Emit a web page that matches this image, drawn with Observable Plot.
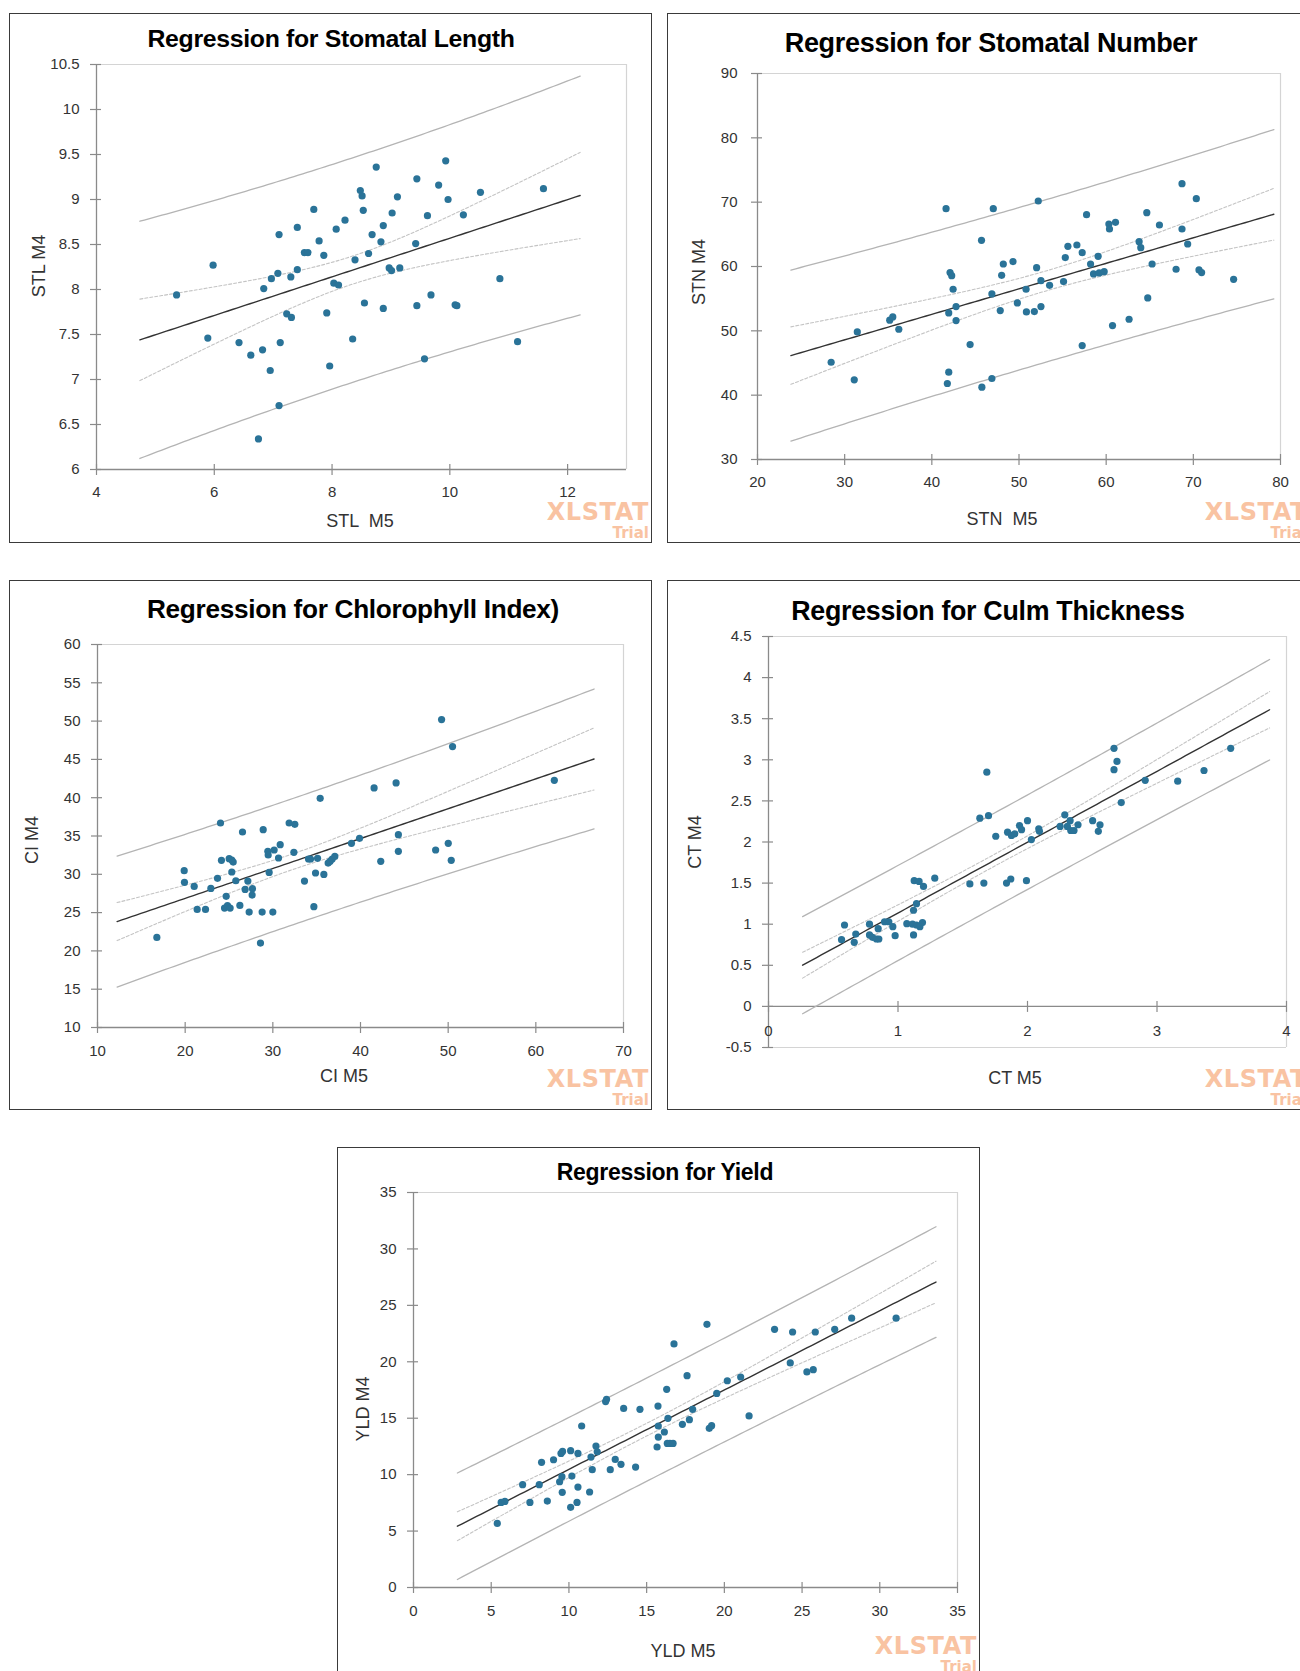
<!DOCTYPE html>
<html><head><meta charset="utf-8">
<script src="https://cdn.jsdelivr.net/npm/d3@7"></script>
<script src="https://cdn.jsdelivr.net/npm/@observablehq/plot@0.6"></script>
<style>
html,body{margin:0;padding:0;background:#fff}
body{width:1300px;height:1671px;overflow:hidden;position:relative;font-family:"Liberation Sans",Arial,sans-serif}
.box{position:absolute;border:1.5px solid #3a3a3a;box-sizing:border-box;pointer-events:none}
.title{position:absolute;transform:translate(-50%,-50%);white-space:nowrap;font-weight:bold;color:#000;letter-spacing:-0.3px}
.xl{position:absolute;transform:translate(-50%,-50%);white-space:pre;font-size:18px;color:#333}
.yl{position:absolute;transform:translate(-50%,-50%) rotate(-90deg);white-space:pre;font-size:18px;color:#333}
.wm{position:absolute;right:3px;transform:translateY(-50%);font-family:"DejaVu Sans",sans-serif;font-weight:bold;color:#f9c3a2;line-height:1;white-space:nowrap}
.panel{position:absolute;overflow:hidden;width:643px;height:530px}
</style>
</head><body>
<script>
// ---------- data ----------
const titles = ["Regression for Stomatal Length","Regression for Stomatal Number","Regression for Chlorophyll Index)","Regression for Culm Thickness","Regression for Yield"];
const xLabels = ["STL  M5","STN  M5","CI M5","CT M5","YLD M5"];
const yLabels = ["STL M4","STN M4","CI M4","CT M4","YLD M4"];

const stlM5 = [5.36,5.98,5.89,6.42,6.62,6.82,6.95,6.75,7.10,7.12,6.84,6.97,7.08,7.10,7.30,7.41,7.41,7.23,7.31,7.53,7.59,7.69,7.78,7.86,7.91,7.96,8.03,8.11,8.07,8.22,8.35,8.39,8.48,8.51,8.53,8.55,8.62,8.68,8.75,
 8.83,8.87,8.87,9.02,9.11,8.97,9.01,9.15,9.42,9.44,9.44,9.62,9.68,9.57,9.81,9.93,9.97,10.09,10.12,10.23,10.52,10.85,11.15,11.59];
const stlM4 = [7.94,8.27,7.46,7.41,7.27,7.33,7.10,6.34,6.71,7.41,8.01,8.12,8.18,8.61,8.14,8.22,8.69,7.73,7.69,8.41,8.41,8.89,8.54,8.38,7.74,7.15,8.07,8.05,8.67,8.77,7.45,8.33,9.10,9.04,8.88,7.85,8.40,8.61,9.36,
 8.53,8.71,7.79,8.85,9.03,8.24,8.21,8.24,8.51,9.23,7.82,8.82,7.94,7.23,9.16,9.43,9.00,7.83,7.82,8.83,9.08,8.12,7.42,9.12];

const stnM5 = [28.45,31.10,31.45,35.17,35.52,36.21,41.63,42.09,42.28,42.44,42.78,41.94,42.78,41.94,41.78,44.39,45.70,45.74,46.89,47.05,46.89,47.85,48.01,48.20,49.31,49.81,50.81,50.85,
 51.76,52.52,52.02,52.52,53.51,55.11,55.31,55.61,56.64,57.25,57.75,58.21,59.08,58.55,59.20,59.77,57.25,60.31,60.38,61.07,60.73,62.63,63.78,63.97,64.66,64.77,65.27,66.11,68.02,68.70,68.70,69.35,70.34,70.65,70.95,74.62,52.21];
const stnM4 = [45.12,42.38,49.83,51.65,52.16,50.25,68.99,59.05,58.58,56.46,53.77,52.78,51.59,43.57,41.81,47.87,64.07,41.24,42.59,68.99,55.73,53.15,58.63,60.39,60.76,54.34,56.46,52.94,
 52.99,53.77,59.82,57.80,57.08,57.65,61.38,63.14,63.34,62.15,68.05,60.39,61.58,58.84,59.00,59.20,47.71,66.60,65.83,66.86,50.82,51.80,63.86,62.93,68.36,55.11,60.39,66.45,59.57,72.87,65.83,63.50,70.54,59.46,59.05,58.01,70.18];

const ciM5 = [16.77,19.89,19.92,21.03,21.37,22.32,22.93,23.69,24.03,24.14,24.68,24.49,24.83,25.13,25.02,25.32,25.48,25.32,25.78,26.24,26.54,26.84,27.15,27.30,27.68,27.64,28.59,28.78,28.90,29.43,29.47,29.58,30.00,30.15,30.65,30.84,31.86,32.51,32.40,33.61,34.07,34.30,34.68,35.10,34.87,35.40,35.82,36.31,36.54,36.77,37.07,38.97,39.89,
 41.55,44.06,42.31,44.32,44.32,48.57,50.01,50.35,49.25,50.50,62.11];
const ciM4 = [21.76,30.47,28.95,28.42,25.42,25.42,28.16,29.47,36.70,31.82,27.12,25.59,25.90,25.59,32.04,31.87,31.60,30.30,29.16,25.94,35.52,28.03,29.12,25.07,28.12,27.29,21.02,25.07,35.83,33.00,32.52,30.25,25.07,33.17,32.13,33.87,36.70,36.52,32.87,29.12,32.00,32.00,25.77,32.08,30.17,39.92,29.99,31.47,31.69,32.00,32.34,34.04,34.70,
 41.27,41.93,31.69,35.17,33.00,33.17,34.04,31.82,50.20,46.67,42.27];

const ctM5 = [0.564,0.587,0.662,0.674,0.780,0.780,0.803,0.834,0.852,0.847,0.896,0.929,0.960,0.978,1.068,1.12,1.12,1.143,1.112,1.143,1.169,1.189,1.125,1.163,1.197,1.284,1.555,1.663,1.686,1.632,1.699,1.755,1.838,1.871,1.846,1.876,1.902,1.938,1.954,1.992,2.00,2.03,
 2.087,2.092,2.252,2.288,2.308,2.329,2.334,2.359,2.39,2.503,2.56,2.547,2.668,2.691,2.668,2.724,2.909,3.16,3.363,3.569];
const ctM4 = [0.812,0.99,0.78,0.88,1.00,0.87,0.84,0.82,0.82,0.945,1.03,1.03,0.97,0.86,1.006,0.87,1.17,1.25,1.00,0.99,0.97,1.02,1.53,1.52,1.46,1.56,1.49,1.50,2.85,2.29,2.32,2.07,1.50,1.55,2.12,2.08,2.10,2.20,2.15,1.53,2.26,2.03,
 2.16,2.13,2.19,2.33,2.19,2.26,2.14,2.14,2.21,2.26,2.21,2.13,3.14,2.98,2.88,2.48,2.75,2.74,2.87,3.14];

const yldM5 = [5.39,5.64,5.88,7.02,7.49,8.09,8.24,8.61,9.01,9.40,9.55,9.49,9.59,9.57,10.11,10.11,10.19,10.52,10.58,10.58,10.82,11.33,11.42,11.50,11.74,11.82,12.36,12.42,12.66,12.98,13.35,13.52,14.29,14.57,15.67,15.73,15.75,15.75,16.14,16.29,16.37,16.33,16.50,16.70,16.76,17.30,17.60,17.75,
 17.96,18.88,19.03,19.18,19.51,20.19,21.05,21.59,23.23,24.24,24.39,25.31,25.72,25.85,27.10,28.19,31.05];
const yldM4 = [5.68,7.54,7.63,9.11,7.54,9.11,11.09,7.66,11.32,9.37,9.82,11.88,12.06,8.43,7.10,12.12,9.87,7.54,11.88,8.90,14.31,8.46,11.56,10.44,12.53,12.03,16.47,16.67,10.44,11.35,10.91,15.87,10.67,15.79,12.45,16.08,14.31,13.33,13.78,17.56,14.99,12.77,12.77,12.77,21.58,14.46,18.77,14.87,
 15.79,23.32,14.10,14.34,17.20,18.32,18.65,15.20,22.88,19.90,22.64,19.10,19.30,22.64,22.88,23.86,23.86];

const xTicks = [[4,6,8,10,12],[20,30,40,50,60,70,80],[10,20,30,40,50,60,70],[0,1,2,3,4],[0,5,10,15,20,25,30,35]];
const yTicks = [[6,6.5,7,7.5,8,8.5,9,9.5,10,10.5],[30,40,50,60,70,80,90],[10,15,20,25,30,35,40,45,50,55,60],[-0.5,0,0.5,1,1.5,2,2.5,3,3.5,4,4.5],[0,5,10,15,20,25,30,35]];
const xDomains = [[4,13],[20,80],[10,70],[0,4],[0,35]];
const yDomains = [[6,10.5],[30,90],[10,60],[-0.5,4.5],[0,35]];
const xAxisAt = [6,30,10,0,0];

// ---------- layout ----------
const W = 643, H = 530;
const layout = [
  {box:[9,13],   frame:[96,64,626,469],    title:[331,39],  ts:24.8, xl:[360,521],  yl:[39,266],  tdx:-17, tdy:23},
  {box:[667,13], frame:[757,73,1280,459],  title:[991,43],  ts:27,   xl:[1002,519], yl:[699,272], tdx:-20, tdy:23},
  {box:[9,580],  frame:[97,644,623,1027],  title:[353,609], ts:26.2, xl:[344,1076], yl:[32,840],  tdx:-17, tdy:24},
  {box:[667,580],frame:[768,636,1286,1047],title:[988,611], ts:26.8, xl:[1015,1078],yl:[695,842], tdx:-17, tdy:25},
  {box:[337,1147],frame:[413,1192,957,1587],title:[665,1172],ts:23,  xl:[683,1651],yl:[363,1409],tdx:-17, tdy:24}
];
const series = [[stlM5,stlM4],[stnM5,stnM4],[ciM5,ciM4],[ctM5,ctM4],[yldM5,yldM4]];

function tq(df){ // 97.5% t quantile (Cornish-Fisher)
  const z = 1.959964;
  return z + (z**3 + z)/(4*df) + (5*z**5 + 16*z**3 + 3*z)/(96*df*df) + (3*z**7+19*z**5+17*z**3-15*z)/(384*df**3);
}
function fit(xs, ys){
  const n = xs.length, mx = d3.mean(xs), my = d3.mean(ys);
  let sxx = 0, sxy = 0;
  for (let i=0;i<n;i++){ sxx += (xs[i]-mx)**2; sxy += (xs[i]-mx)*(ys[i]-my); }
  const b = sxy/sxx, a = my - b*mx;
  let sse = 0; for (let i=0;i<n;i++) sse += (ys[i]-a-b*xs[i])**2;
  const s = Math.sqrt(sse/(n-2)), t = tq(n-2);
  const [lo, hi] = d3.extent(xs), r = hi - lo;
  const x0 = lo - 0.1*r, x1 = hi + 0.1*r;
  return d3.range(0,101).map(i => {
    const x = x0 + (x1-x0)*i/100, yh = a + b*x;
    const se = s*Math.sqrt(1/n + (x-mx)**2/sxx), sp = s*Math.sqrt(1 + 1/n + (x-mx)**2/sxx);
    return {x, yh, cl: yh - t*se, cu: yh + t*se, pl: yh - t*sp, pu: yh + t*sp};
  });
}

const AX = "#8a8a8a", FR = "#d4d4d4", DOT = "#2a7398";
series.forEach(([xs, ys], k) => {
  const L = layout[k];
  const [bx, by] = L.box, [fl, ft, fr, fb] = L.frame;
  const xd = xDomains[k], yd = yDomains[k];
  const pxX = (xd[1]-xd[0])/(fr-fl), pxY = (yd[1]-yd[0])/(fb-ft);
  const base = xAxisAt[k];
  const pts = xs.map((x,i) => ({x, y: ys[i]}));
  const rows = fit(xs, ys);
  const marks = [
    Plot.ruleY([yd[1]], {stroke: FR, strokeWidth: 1.2}),
    Plot.ruleX([xd[1]], {stroke: FR, strokeWidth: 1.2}),
  ];
  if (base !== yd[0]) marks.push(Plot.ruleY([yd[0]], {stroke: FR, strokeWidth: 1.2}));
  marks.push(
    Plot.ruleX([xd[0]], {stroke: AX, strokeWidth: 1.3}),
    Plot.ruleY([base], {stroke: AX, strokeWidth: 1.3}),
    Plot.ruleX(xTicks[k], {x: d => d, y1: base - 6*pxY, y2: base + 5*pxY, stroke: AX, strokeWidth: 1.2}),
    Plot.ruleY(yTicks[k], {y: d => d, x1: xd[0] - 6*pxX, x2: xd[0] + 5*pxX, stroke: AX, strokeWidth: 1.2}),
    Plot.text(xTicks[k], {x: d => d, y: base, dy: L.tdy, text: d => String(d), fontSize: 15, fill: "#333"}),
    Plot.text(yTicks[k], {y: d => d, x: xd[0], dx: L.tdx, text: d => String(d), textAnchor: "end", fontSize: 15, fill: "#333"}),
    Plot.line(rows, {x: "x", y: "pu", stroke: "#b4b4b4", strokeWidth: 1.3}),
    Plot.line(rows, {x: "x", y: "pl", stroke: "#b4b4b4", strokeWidth: 1.3}),
    Plot.line(rows, {x: "x", y: "cu", stroke: "#c4c4c4", strokeWidth: 1.1, strokeDasharray: "3,2"}),
    Plot.line(rows, {x: "x", y: "cl", stroke: "#c4c4c4", strokeWidth: 1.1, strokeDasharray: "3,2"}),
    Plot.line(rows, {x: "x", y: "yh", stroke: "#333", strokeWidth: 1.4}),
    Plot.dot(pts, {x: "x", y: "y", r: 3.6, fill: DOT, stroke: "none"})
  );
  const chart = Plot.plot({
    width: W, height: H,
    marginLeft: fl - bx, marginRight: bx + W - fr, marginTop: ft - by, marginBottom: by + H - fb,
    x: {domain: xd, axis: null}, y: {domain: yd, axis: null},
    style: {fontFamily: "'Liberation Sans', Arial, sans-serif", background: "transparent", overflow: "visible"},
    marks
  });
  const panel = document.createElement("div");
  panel.className = "panel";
  panel.style.left = bx + "px"; panel.style.top = by + "px";
  panel.appendChild(chart);
  const wm1 = document.createElement("div"); wm1.className = "wm"; wm1.textContent = "XLSTAT";
  wm1.style.fontSize = "24px"; wm1.style.letterSpacing = "0.6px"; wm1.style.top = "499px";
  const wm2 = document.createElement("div"); wm2.className = "wm"; wm2.textContent = "Trial";
  wm2.style.fontSize = "15px"; wm2.style.top = "520px";
  panel.appendChild(wm1); panel.appendChild(wm2);
  document.body.appendChild(panel);
  const box = document.createElement("div"); box.className = "box";
  Object.assign(box.style, {left: bx+"px", top: by+"px", width: W+"px", height: H+"px"});
  document.body.appendChild(box);
  const t = document.createElement("div"); t.className = "title"; t.textContent = titles[k];
  t.style.fontSize = L.ts + "px";
  t.style.left = L.title[0]+"px"; t.style.top = L.title[1]+"px"; document.body.appendChild(t);
  const xl = document.createElement("div"); xl.className = "xl"; xl.textContent = xLabels[k];
  xl.style.left = L.xl[0]+"px"; xl.style.top = L.xl[1]+"px"; document.body.appendChild(xl);
  const yl = document.createElement("div"); yl.className = "yl"; yl.textContent = yLabels[k];
  yl.style.left = L.yl[0]+"px"; yl.style.top = L.yl[1]+"px"; document.body.appendChild(yl);
});
</script>
</body></html>
